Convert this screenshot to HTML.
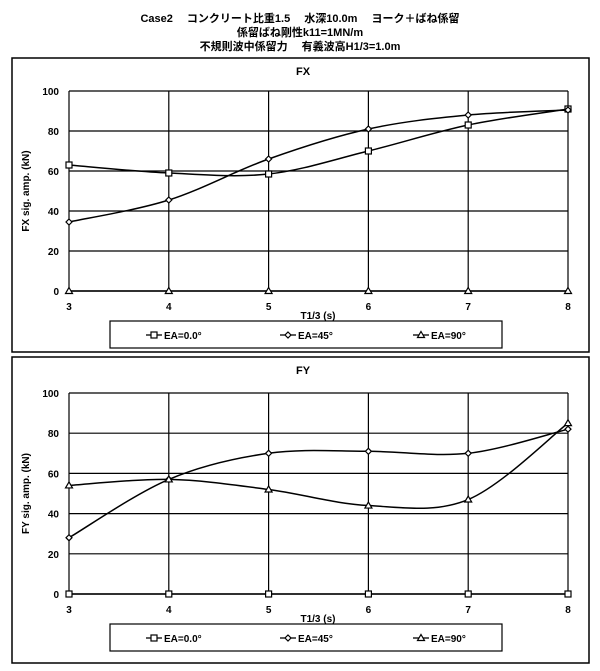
<!DOCTYPE html>
<html><head><meta charset="utf-8"><style>
body{margin:0;background:#fff;font-family:"Liberation Sans","Noto Sans CJK JP",sans-serif;}
svg text{font-family:"Liberation Sans","Noto Sans CJK JP",sans-serif;font-weight:bold;fill:#000;}
</style></head><body>
<svg id="c" width="600" height="666" viewBox="0 0 600 666" xmlns="http://www.w3.org/2000/svg">
<text x="300" y="22" font-size="11" text-anchor="middle">Case2　 コンクリート比重1.5　 水深10.0m　 ヨーク＋ばね係留</text>
<text x="300" y="36" font-size="11" text-anchor="middle">係留ばね剛性k11=1MN/m</text>
<text x="300" y="50" font-size="11" text-anchor="middle">不規則波中係留力　 有義波高H1/3=1.0m</text>
</svg>
<script>
const xCats=[3,4,5,6,7,8];
const yTicks=[0,20,40,60,80,100];
const fxEA0=[63,59,58.5,70,83,91];
const fxEA45=[34.5,45.5,66,81,88,90.5];
const fxEA90=[0,0,0,0,0,0];
const fyEA0=[0,0,0,0,0,0];
const fyEA45=[28,57,70,71,70,82];
const fyEA90=[54,57,52,44,47,85];
const legendLabels=['EA=0.0°','EA=45°','EA=90°'];
const svg=document.getElementById('c');
const NS='http://www.w3.org/2000/svg';
function mk(tag,attrs,parent){const e=document.createElementNS(NS,tag);for(const k in attrs)e.setAttribute(k,attrs[k]);(parent||svg).appendChild(e);return e;}
function marker(g,kind,x,y){
  let m;
  if(kind==='sq')m=mk('rect',{x:x-3,y:y-3,width:6,height:6,fill:'#fff',stroke:'#000','stroke-width':1.2},g);
  else if(kind==='di')m=mk('path',{d:`M${x} ${y-3}L${x+3} ${y}L${x} ${y+3}L${x-3} ${y}Z`,fill:'#fff',stroke:'#000','stroke-width':1.2},g);
  else m=mk('path',{d:`M${x} ${y-3.5}L${x+3.5} ${y+2.5}L${x-3.5} ${y+2.5}Z`,fill:'#fff',stroke:'#000','stroke-width':1.2},g);
  
  
}
function chart(o){
  const g=mk('g',{});
  
  
  const fr=mk('rect',{x:12,y:o.fy,width:577,height:o.fh,fill:'none',stroke:'#000','stroke-width':1.5},g);
  
  
  const t=mk('text',{x:303,y:o.fy+17,'font-size':11,'text-anchor':'middle'},g);t.textContent=o.title;
  
  
  const L=69,R=568,T=o.top,B=o.bot;
  const xs=v=>L+(v-3)/5*(R-L), ys=v=>B-v/100*(B-T);
  yTicks.forEach(v=>{
    const l=mk('line',{x1:L,x2:R,y1:ys(v),y2:ys(v),stroke:'#000','stroke-width':1.2},g);
    
    
    const tx=mk('text',{x:L-10,y:ys(v)+4,'font-size':10,'text-anchor':'end'},g);tx.textContent=v;
    
    
  });
  xCats.forEach(v=>{
    const l=mk('line',{x1:xs(v),x2:xs(v),y1:T,y2:B,stroke:'#000','stroke-width':1.2},g);
    
    
    const tx=mk('text',{x:xs(v),y:B+19,'font-size':10,'text-anchor':'middle'},g);tx.textContent=v;
    
    
  });
  const xt=mk('text',{x:318,y:B+28,'font-size':10,'text-anchor':'middle'},g);xt.textContent='T1/3 (s)';
  
  
  const cy=(T+B)/2;
  const yt=mk('text',{x:29,y:cy,'font-size':10,'text-anchor':'middle',transform:`rotate(-90 29 ${cy})`},g);yt.textContent=o.id.toUpperCase()+' sig. amp. (kN)';
  
  
  o.series.forEach((s,si)=>{
    const p=xCats.map((x,i)=>[xs(x),ys(s.v[i])]);
    let d=`M${p[0][0]} ${p[0][1]}`;
    for(let i=0;i<p.length-1;i++){
      const p0=p[Math.max(0,i-1)],p1=p[i],p2=p[i+1],p3=p[Math.min(p.length-1,i+2)];
      const c1=[p1[0]+(p2[0]-p0[0])/6,p1[1]+(p2[1]-p0[1])/6],c2=[p2[0]-(p3[0]-p1[0])/6,p2[1]-(p3[1]-p1[1])/6];
      d+=`C${c1[0]} ${c1[1]} ${c2[0]} ${c2[1]} ${p2[0]} ${p2[1]}`;
    }
    const pa=mk('path',{d:d,fill:'none',stroke:'#000','stroke-width':1.5},g);
    
    
    p.forEach(q=>marker(g,s.m,q[0],q[1]));
  });
  const lg=mk('g',{},g);
  
  
  mk('rect',{x:110,y:o.ly,width:392,height:27,fill:'#fff',stroke:'#000','stroke-width':1.2},lg);
  const kinds=['sq','di','tr'];
  [146,280,413].forEach((lx,i)=>{
    const ly=o.ly+14;
    const e=mk('line',{x1:lx,x2:lx+16,y1:ly,y2:ly,stroke:'#000','stroke-width':1.3},lg);
    
    
    marker(lg,kinds[i],lx+8,ly);
    const tx=mk('text',{x:lx+18,y:ly+4,'font-size':10,'font-weight':'normal'},lg);tx.textContent=legendLabels[i];
    
    
  });
}
chart({id:'fx',title:'FX',fy:58,fh:294,top:91,bot:291,ly:321,series:[{v:fxEA0,m:'sq'},{v:fxEA45,m:'di'},{v:fxEA90,m:'tr'}]});
chart({id:'fy',title:'FY',fy:357,fh:306,top:393,bot:594,ly:624,series:[{v:fyEA0,m:'sq'},{v:fyEA45,m:'di'},{v:fyEA90,m:'tr'}]});
</script>
</body></html>
